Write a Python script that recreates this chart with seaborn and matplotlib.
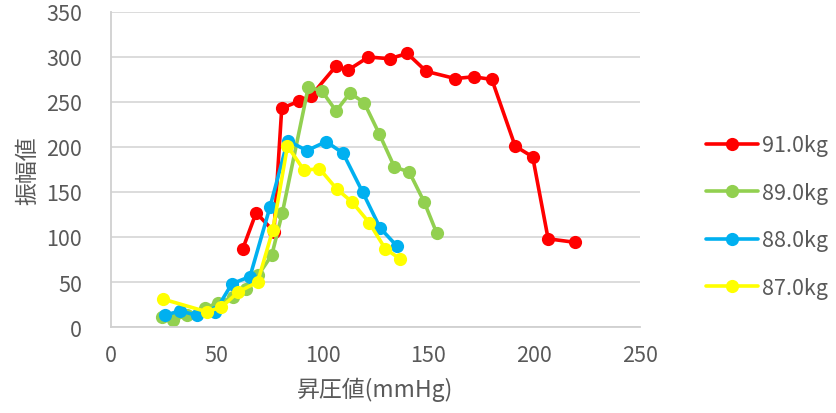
import matplotlib
matplotlib.use("Agg")
import matplotlib.pyplot as plt
import seaborn as sns
import pandas as pd

# Pressure (mmHg) vs. oscillation amplitude for each body weight
x_91 = [62.3, 68.6, 77, 80.7, 89, 94.6, 106.4, 111.8, 121.7, 131.7, 140, 149,
        162.7, 171.4, 180, 191, 199.3, 206.6, 219.5]
y_91 = [87, 127, 106, 243, 251, 257, 290, 285, 300, 298, 304, 284,
        276, 278, 275, 201, 189, 98, 94]

x_89 = [24, 29.5, 36, 44.5, 50.5, 57.5, 64, 69.7, 76, 81, 93.3, 99.7, 106.4,
        113, 119.7, 126.9, 133.9, 141, 148, 154]
y_89 = [11, 8, 13, 21, 27, 33, 42, 58, 80, 127, 267, 262, 240,
        260, 249, 214, 178, 172, 139, 104]

x_88 = [25.5, 32.6, 40.5, 49.2, 57.1, 65.7, 75.1, 83.5, 92.6, 101.7, 109.7,
        118.9, 127.2, 135.1]
y_88 = [13, 18, 13, 17, 48, 56, 133, 207, 196, 206, 193, 150, 110, 90]

x_87 = [24.6, 45.2, 52.2, 60.2, 69.3, 76.5, 83.4, 91.3, 98.5, 106.8, 113.9,
        122, 129.6, 136.4]
y_87 = [31, 17, 22, 39, 50, 108, 201, 174, 176, 153, 139, 116, 87, 76]

series_names = ["91.0kg", "89.0kg", "88.0kg", "87.0kg"]
series_colors = ["#FF0000", "#92D050", "#00B0F0", "#FFFF00"]

frames = []
for name, xs, ys in zip(series_names, [x_91, x_89, x_88, x_87],
                        [y_91, y_89, y_88, y_87]):
    frames.append(pd.DataFrame({"pressure": xs, "amplitude": ys,
                                "weight": name}))
df = pd.concat(frames, ignore_index=True)

sns.set_theme(style="white")
plt.rcParams["font.family"] = ["Noto Sans CJK JP", "DejaVu Sans"]

fig = plt.figure(figsize=(8.37, 4.14), dpi=100)
ax = fig.add_axes([0.1326, 0.2077, 0.632, 0.761])

sns.lineplot(data=df, x="pressure", y="amplitude", hue="weight",
             hue_order=series_names, palette=series_colors,
             estimator=None, sort=False, units="weight",
             marker="o", markersize=9.5, markeredgewidth=0,
             linewidth=2.6, ax=ax, legend=True)

ax.set_xlim(0, 250)
ax.set_ylim(0, 350)
ax.set_xticks(range(0, 251, 50))
ax.set_yticks(range(0, 351, 50))

tick_color = "#595959"
ax.tick_params(axis="both", which="both", length=0, labelsize=15.5,
               labelcolor=tick_color)
ax.tick_params(axis="x", pad=12)
ax.tick_params(axis="y", pad=21)

ax.grid(axis="y", color="#d9d9d9", linewidth=1.3)
ax.grid(axis="x", visible=False)
ax.set_axisbelow(True)
for side in ["top", "right"]:
    ax.spines[side].set_visible(False)
for side in ["left", "bottom"]:
    ax.spines[side].set_color("#d0d0d0")
    ax.spines[side].set_linewidth(1.3)

ax.set_xlabel("昇圧値(mmHg)", fontsize=16.5, color=tick_color, labelpad=8)
ax.set_ylabel("振幅値", fontsize=16.5, color=tick_color, labelpad=5)

handles, labels = ax.get_legend_handles_labels()
ax.legend(handles, labels, loc="center left", bbox_to_anchor=(0.8435, 0.4746),
          bbox_transform=fig.transFigure, frameon=False, fontsize=15.5,
          labelcolor=tick_color, handlelength=2.4, handletextpad=0.2,
          labelspacing=1.18, borderaxespad=0, borderpad=0)

fig.savefig("out.png", dpi=100)
